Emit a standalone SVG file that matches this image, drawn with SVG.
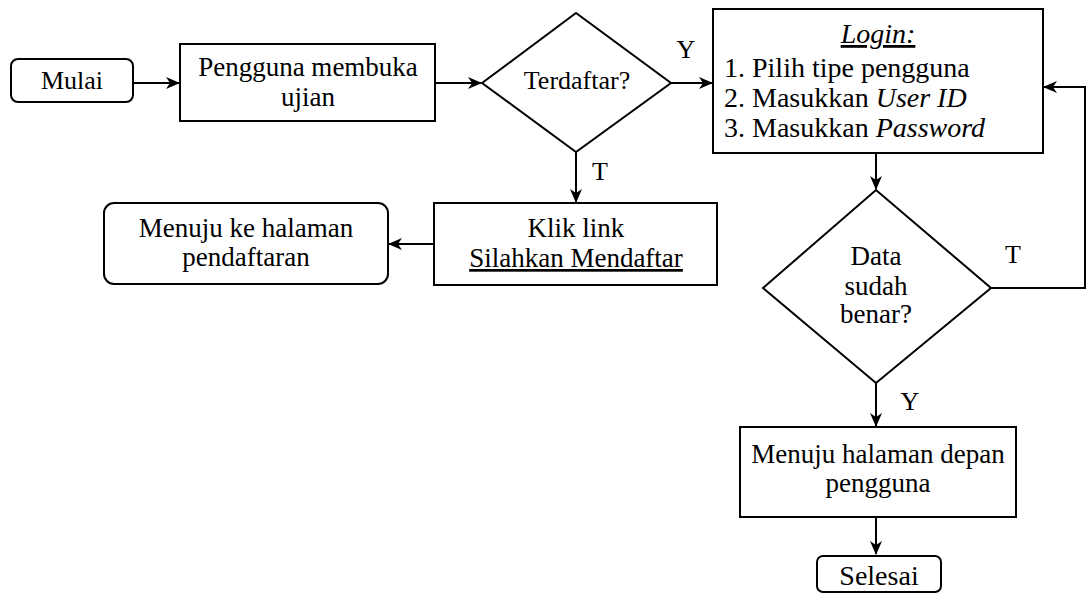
<svg xmlns="http://www.w3.org/2000/svg" width="1089" height="593" viewBox="0 0 1089 593">
  <style>
    .box { fill: #ffffff; stroke: #000000; stroke-width: 2; }
    .edge { fill: none; stroke: #000000; stroke-width: 2; }
    .c { text-anchor: middle; }
    .i { font-style: italic; }
    .u { text-decoration: underline; }
    .t { font-family: "Liberation Serif", "Times New Roman", serif; font-size: 27px; fill: #000000; }
    .big { font-size: 28px; }
    .mid { font-size: 26px; }
  </style>
  <defs>
    <marker id="arrow" markerUnits="userSpaceOnUse" markerWidth="14" markerHeight="12" viewBox="0 0 14 12" refX="13" refY="6" orient="auto">
      <path d="M0,0 L14,6 L0,12 L4,6 Z" fill="#000000"/>
    </marker>
  </defs>

  <rect width="1089" height="593" fill="#ffffff"/>

  <g id="connectors">
    <path class="edge" d="M133,83 H179" marker-end="url(#arrow)"/>
    <path class="edge" d="M435,83 H481" marker-end="url(#arrow)"/>
    <path class="edge" d="M671,83 H712" marker-end="url(#arrow)"/>
    <path class="edge" d="M576,152 V202" marker-end="url(#arrow)"/>
    <path class="edge" d="M434,244 H389" marker-end="url(#arrow)"/>
    <path class="edge" d="M876,153 V189" marker-end="url(#arrow)"/>
    <path class="edge" d="M991,288 H1085 V87 H1044" marker-end="url(#arrow)"/>
    <path class="edge" d="M876,383 V426" marker-end="url(#arrow)"/>
    <path class="edge" d="M876,517 V554" marker-end="url(#arrow)"/>
    <text x="686" y="58" class="t mid c">Y</text>
    <text x="600" y="180" class="t mid c">T</text>
    <text x="1013" y="263" class="t mid c">T</text>
    <text x="910" y="410" class="t mid c">Y</text>
  </g>

  <g id="mulai">
    <rect class="box" x="11" y="59" width="122" height="43" rx="7"/>
    <text x="72" y="89" class="t mid c">Mulai</text>
  </g>

  <g id="membuka-ujian">
    <rect class="box" x="180" y="44" width="255" height="77"/>
    <text x="308" y="76" class="t c">Pengguna membuka</text>
    <text x="308" y="106" class="t c">ujian</text>
  </g>

  <g id="terdaftar">
    <polygon class="box" points="482,83 576,13 671,83 576,152"/>
    <text x="577" y="89" class="t mid c">Terdaftar?</text>
  </g>

  <g id="login">
    <rect class="box" x="713" y="9" width="330" height="144"/>
    <text x="878" y="43" class="t big c i u">Login:</text>
    <text x="724" y="77" class="t big">1. Pilih tipe pengguna</text>
    <text x="724" y="107" class="t big">2. Masukkan <tspan class="i">User ID</tspan></text>
    <text x="724" y="137" class="t big">3. Masukkan <tspan class="i">Password</tspan></text>
  </g>

  <g id="klik-link">
    <rect class="box" x="434" y="203" width="283" height="82"/>
    <text x="576" y="237" class="t c">Klik link</text>
    <text x="576" y="267" class="t c u">Silahkan Mendaftar</text>
  </g>

  <g id="halaman-pendaftaran">
    <rect class="box" x="104" y="203" width="284" height="81" rx="10"/>
    <text x="246" y="237" class="t c">Menuju ke halaman</text>
    <text x="246" y="266" class="t c">pendaftaran</text>
  </g>

  <g id="data-benar">
    <polygon class="box" points="763,288 876,190 991,288 876,383"/>
    <text x="876" y="265" class="t c">Data</text>
    <text x="876" y="295" class="t c">sudah</text>
    <text x="876" y="323" class="t c">benar?</text>
  </g>

  <g id="halaman-depan">
    <rect class="box" x="740" y="427" width="276" height="90"/>
    <text x="878" y="463" class="t c">Menuju halaman depan</text>
    <text x="878" y="492" class="t c">pengguna</text>
  </g>

  <g id="selesai">
    <rect class="box" x="817" y="556" width="124" height="36" rx="6"/>
    <text x="879" y="585" class="t big c">Selesai</text>
  </g>
</svg>
